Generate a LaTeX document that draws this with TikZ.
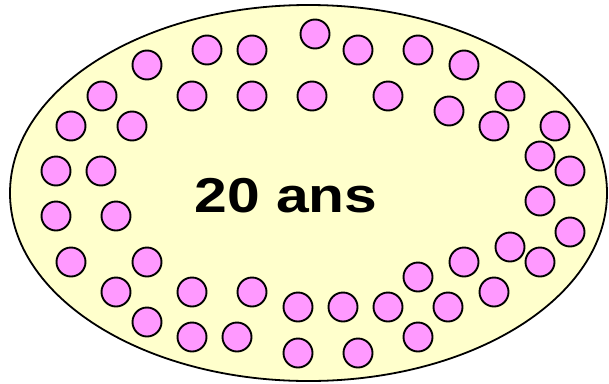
\documentclass[tikz,border=0pt]{standalone}
\usepackage{fontspec}
\setmainfont{Liberation Sans}
\definecolor{myyellow}{HTML}{FFFFCC}
\definecolor{mypink}{HTML}{FF99FF}
\begin{document}
\begin{tikzpicture}[x=1pt,y=-1pt] % координаты в пикселях
\tikzstyle{mycell} = [circle, draw, line width=1.9pt, fill=mypink, minimum size=29pt, inner sep=0pt] % клетка
\tikzstyle{myoval} = [draw, line width=1.8pt, fill=myyellow] % овал
\useasboundingbox (0,0) rectangle (609,383);
\draw[myoval] (308.5,193) ellipse (298.5pt and 188pt);
\node[font=\bfseries\fontsize{49}{49}\selectfont, xscale=1.2] (age) at (286,196) {20 ans}; % подпись
% клетки
\foreach \x/\y [count=\i] in {147/65,207/50,252/50,315/34,358/50,418/50,464/65,
  102/96,192/96,252/96,312/96,388/96,510/96,
  71/126,132/126,449/111,494/126,555/126,
  56/171,101/171,540/156,570/171,
  56/216,116/216,540/201,570/232,
  71/262,147/262,510/247,540/262,464/262,
  116/292,192/292,252/292,418/277,494/292,
  298/307,343/307,388/307,448/307,
  147/322,192/337,237/337,418/337,
  298/353,358/353}
  \node[mycell] (c\i) at (\x,\y) {};
\end{tikzpicture}
\end{document}
